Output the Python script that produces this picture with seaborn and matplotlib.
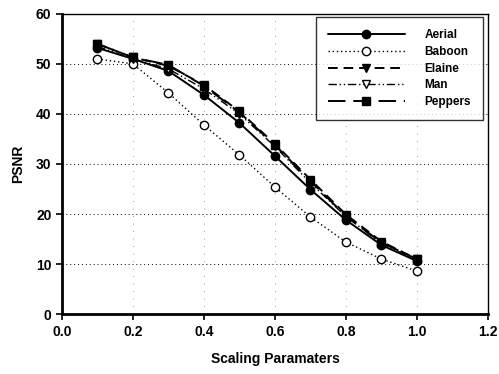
import matplotlib
matplotlib.use("Agg")
import matplotlib.pyplot as plt
import seaborn as sns
import pandas as pd

# scaling parameters on the x axis
scaling = [0.1, 0.2, 0.3, 0.4, 0.5, 0.6, 0.7, 0.8, 0.9, 1.0]

# PSNR per test image
aerial = [53.2, 51.0, 48.6, 43.8, 38.2, 31.6, 24.9, 18.8, 13.8, 10.6]
baboon = [51.0, 50.0, 44.2, 37.8, 31.8, 25.4, 19.4, 14.4, 11.0, 8.6]
elaine = [54.0, 51.3, 49.6, 45.8, 40.5, 34.0, 26.9, 19.9, 14.5, 11.0]
man = [53.5, 51.0, 49.0, 45.0, 40.0, 33.5, 26.2, 19.5, 14.1, 10.8]
peppers = [54.0, 51.3, 49.8, 45.6, 40.3, 33.8, 26.6, 19.6, 14.3, 11.0]

series = {"Aerial": aerial, "Baboon": baboon, "Elaine": elaine,
          "Man": man, "Peppers": peppers}

rows = []
for name, vals in series.items():
    for x, v in zip(scaling, vals):
        rows.append({"Scale": x, "PSNR": v, "Image": name})
df = pd.DataFrame(rows)

sns.set_style("white")
plt.rcParams["font.family"] = ["Liberation Sans", "DejaVu Sans"]
plt.rcParams["font.weight"] = "bold"
plt.rcParams["text.color"] = "black"
plt.rcParams["axes.labelcolor"] = "black"
plt.rcParams["xtick.color"] = "black"
plt.rcParams["ytick.color"] = "black"

styles = {
    "Aerial": dict(ls="-", marker="o", mfc="black", lw=1.4),
    "Baboon": dict(ls=(0, (1, 2)), marker="o", mfc="white", lw=1.0),
    "Elaine": dict(ls=(0, (5, 3)), marker="v", mfc="black", lw=1.4),
    "Man": dict(ls=(0, (6, 2, 1, 2, 1, 2)), marker="v", mfc="white", lw=1.0),
    "Peppers": dict(ls=(0, (9, 4)), marker="s", mfc="black", lw=1.4),
}

fig = plt.figure(figsize=(4.99, 3.74), dpi=100)
ax = fig.add_axes([0.124, 0.160, 0.854, 0.803])

for name in series:
    st = styles[name]
    sns.lineplot(data=df[df["Image"] == name], x="Scale", y="PSNR", ax=ax,
                 color="black", linestyle=st["ls"], linewidth=st["lw"],
                 marker=st["marker"], markersize=6, markerfacecolor=st["mfc"],
                 markeredgecolor="black", markeredgewidth=1.0, label=name)

ax.set_xlim(0, 1.2)
ax.set_ylim(0, 60)
ax.set_xticks([0.0, 0.2, 0.4, 0.6, 0.8, 1.0, 1.2])
ax.set_xticklabels(["0.0", "0.2", "0.4", "0.6", "0.8", "1.0", "1.2"])
ax.set_yticks(range(0, 61, 10))
ax.tick_params(axis="both", labelsize=10, length=4, direction="out", width=1.2,
               left=True, bottom=True, colors="black")
ax.grid(axis="y", color="black", linestyle=(0, (1, 3)), linewidth=0.7)
ax.grid(axis="x", color="gray", linestyle=(0, (1, 8)), linewidth=0.6)
for side in ax.spines.values():
    side.set_color("black")
    side.set_linewidth(1.0)
ax.spines["left"].set_linewidth(2.0)
ax.spines["bottom"].set_linewidth(2.0)

ax.set_xlabel("Scaling Paramaters", fontsize=10, fontweight="bold", labelpad=10)
ax.set_ylabel("PSNR", fontsize=10, fontweight="bold", labelpad=8)

leg = ax.legend(loc="upper right", bbox_to_anchor=(0.988, 0.988), frameon=True,
                fancybox=False, edgecolor="black", handlelength=6.5,
                fontsize=8.5, labelspacing=0.4, borderpad=1.0, handletextpad=1.7,
                borderaxespad=0.0)
leg.get_frame().set_linewidth(1.0)
for t in leg.get_texts():
    t.set_fontweight("bold")

fig.savefig("out.png", dpi=100)
